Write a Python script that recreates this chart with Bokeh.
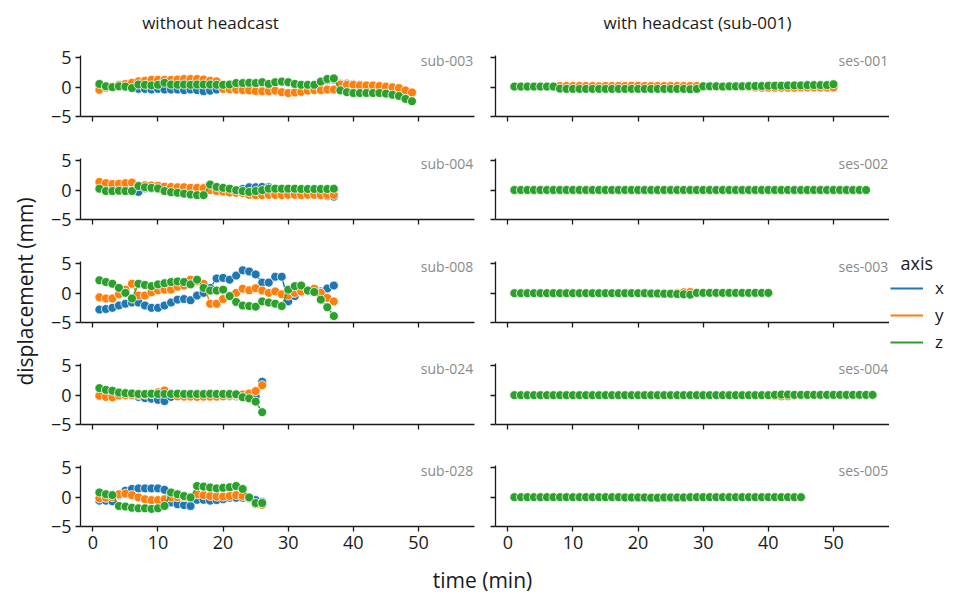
import math
from bokeh.plotting import figure
from bokeh.layouts import column, row
from bokeh.models import Label, Legend, LegendItem, FixedTicker, Range1d, CustomJSTickFormatter
from bokeh.embed import file_html
from bokeh.resources import INLINE

# ---------------- data ----------------
axis_names = ["x", "y", "z"]
axis_colors = ["#1f77b4", "#ff7f0e", "#2ca02c"]
x_ticks = [0, 10, 20, 30, 40, 50]
y_ticks = [-5, 0, 5]
y_tick_labels = ["\u22125", "0", "5"]
col_titles = ["without headcast", "with headcast (sub-001)"]
left_labels = ["sub-003", "sub-004", "sub-008", "sub-024", "sub-028"]
right_labels = ["ses-001", "ses-002", "ses-003", "ses-004", "ses-005"]
legend_title = "axis"
x_label = "time (min)"
y_label = "displacement (mm)"

sub003_x = [0.2, 0.1, 0.0, 0.1, 0.0, -0.1, -0.3, -0.3, -0.4, -0.3,
            -0.4, -0.4, -0.4, -0.5, -0.4, -0.5, -0.7, -0.6, -0.4, 0.3,
            0.4, 0.6, 0.6, 0.7, 0.6, 0.8, 0.5, 0.8, 0.9, 0.8,
            0.5, 0.3, 0.3, 0.3, 0.9, 1.2, 1.3, 0.6, 0.6, 0.5,
            0.4, 0.3, 0.2, 0.1, 0.0, -0.1, -0.3, -0.6, -0.9]
sub003_y = [-0.45, -0.1, 0.1, 0.4, 0.55, 0.75, 1.0, 1.1, 1.25, 1.25,
            1.25, 1.25, 1.3, 1.4, 1.4, 1.4, 1.3, 1.1, 1.0, -0.3,
            -0.35, -0.4, -0.5, -0.55, -0.65, -0.7, -0.7, -0.6, -0.85, -1.0,
            -0.9, -0.8, -0.6, -0.5, -0.5, -0.4, -0.4, 0.45, 0.4, 0.4,
            0.3, 0.3, 0.3, 0.2, 0.1, 0.0, -0.15, -0.55, -0.9]
sub003_z = [0.55, 0.15, 0.0, 0.15, 0.1, -0.15, 0.45, 0.4, 0.3, 0.4,
            0.75, 0.45, 0.4, 0.45, 0.4, 0.45, 0.45, 0.45, 0.4, 0.4,
            0.45, 0.7, 0.7, 0.75, 0.7, 0.85, 0.55, 0.85, 0.95, 0.85,
            0.55, 0.4, 0.4, 0.4, 0.95, 1.4, 1.5, -0.55, -0.85, -1.0,
            -1.0, -1.0, -1.0, -1.0, -1.1, -1.3, -1.5, -2.0, -2.4]

sub004_x = [0.3, 0.1, 0.0, 0.0, 0.0, 0.0, -0.3, 0.3, 0.3, 0.2,
            0.1, 0.0, 0.0, 0.1, 0.3, 0.35, 0.4, 0.6, 0.4, 0.2,
            0.1, 0.0, 0.2, 0.5, 0.5, 0.55, 0.5, 0.2, 0.1, 0.0,
            -0.2, -0.3, -0.5, -0.7, -0.9, -1.0, -1.1]
sub004_y = [1.4, 1.2, 1.05, 1.1, 1.2, 1.3, 0.8, 0.85, 0.8, 0.75,
            0.6, 0.55, 0.5, 0.5, 0.4, 0.4, 0.35, 0.0, -0.15, -0.25,
            -0.4, -0.45, -0.5, -0.8, -0.85, -0.85, -0.8, -0.8, -0.85, -0.8,
            -0.8, -0.85, -0.8, -0.8, -0.85, -0.8, -0.8]
sub004_z = [0.25, -0.15, -0.15, -0.1, -0.15, -0.15, 0.7, 0.5, 0.4, 0.3,
            -0.15, -0.35, -0.45, -0.6, -0.75, -0.85, -0.85, 0.95, 0.55, 0.4,
            0.25, 0.0, -0.15, -0.3, -0.15, 0.0, 0.25, 0.25, 0.25, 0.25,
            0.25, 0.2, 0.2, 0.2, 0.2, 0.2, 0.25]

sub008_x = [-2.8, -2.7, -2.5, -2.1, -1.8, -1.6, -1.6, -2.1, -2.5, -2.5,
            -2.1, -1.6, -1.1, -1.0, -1.2, -0.4, 0.05, 0.9, 2.5, 2.6,
            2.3, 3.0, 3.9, 3.7, 3.2, 1.8, 1.8, 2.8, 2.8, -1.4,
            -0.5, 0.2, 0.3, 0.5, 0.3, 0.8, 1.3]
sub008_y = [-0.7, -0.9, -0.9, -0.2, 0.6, 1.6, -0.4, -0.4, 0.15, 0.5,
            0.6, 0.6, 1.1, 1.3, 2.3, 2.0, 1.6, -1.8, -1.8, -1.0,
            -0.5, 0.05, 0.75, 0.5, 0.85, 0.45, 0.05, 0.3, -0.2, -0.4,
            0.05, 0.3, 0.45, 0.75, 0.05, -0.8, -1.4]
sub008_z = [2.2, 1.9, 1.6, 0.9, 0.05, -0.9, 1.6, 1.4, 1.2, 1.5,
            1.7, 1.9, 2.0, 1.9, 1.5, 2.3, 0.9, 0.45, 0.45, 0.6,
            -0.5, -1.5, -2.1, -2.2, -2.3, -1.4, -1.6, -1.8, -2.2, 0.6,
            1.2, 1.3, 0.45, 0.2, -1.1, -2.4, -3.9]

sub024_x = [-0.1, -0.1, -0.1, 0.0, 0.0, -0.1, -0.3, -0.5, -0.6, -0.8,
            -1.0, -0.3, -0.2, -0.2, -0.2, -0.25, -0.2, -0.2, -0.25, -0.2,
            -0.2, -0.2, -0.1, 0.0, -0.2, 2.3]
sub024_y = [-0.1, -0.3, -0.35, -0.05, 0.0, 0.0, 0.05, 0.1, 0.2, 0.5,
            0.8, 0.3, -0.2, -0.25, -0.25, -0.3, -0.25, -0.25, -0.25, -0.2,
            -0.1, 0.0, 0.1, 0.3, 0.7, 1.7]
sub024_z = [1.2, 0.9, 0.75, 0.45, 0.35, 0.3, 0.2, 0.2, 0.25, 0.2,
            0.2, 0.2, 0.25, 0.2, 0.2, 0.2, 0.2, 0.25, 0.2, 0.2,
            0.2, 0.15, -0.35, -0.55, -1.1, -2.9]

sub028_x = [-0.6, -0.6, -0.7, 0.3, 1.1, 1.4, 1.5, 1.5, 1.5, 1.5,
            1.25, -0.9, -1.2, -1.35, -1.5, -0.45, -0.45, -0.6, -0.5, -0.35,
            -0.1, -0.1, -0.1, -0.2, -0.5, -0.8]
sub028_y = [-0.2, -0.1, 0.0, 0.5, 0.6, 0.35, -0.05, -0.35, -0.5, -0.5,
            -0.35, -0.05, 0.0, 0.0, 0.0, 0.5, 0.35, 0.2, 0.1, 0.1,
            0.2, 0.35, 0.2, -0.2, -1.2, -1.3]
sub028_z = [0.8, 0.5, 0.35, -1.5, -1.6, -1.8, -1.9, -1.9, -2.0, -1.9,
            -1.5, 0.8, 0.5, 0.2, -0.05, 1.9, 1.8, 1.65, 1.5, 1.6,
            1.7, 1.9, 1.4, -0.05, -1.0, -1.0]

ses001_x = [0.05, 0.05, 0.05, 0.05, 0.05, 0.05, 0.0, -0.1, -0.1, -0.1,
            -0.1, -0.1, -0.1, -0.1, -0.1, -0.1, -0.1, -0.1, -0.1, -0.1,
            -0.1, -0.1, -0.1, -0.1, -0.1, -0.1, -0.1, -0.1, -0.1, 0.05,
            0.05, 0.05, 0.05, 0.05, 0.05, 0.05, 0.05, 0.1, 0.1, 0.1,
            0.1, 0.1, 0.1, 0.15, 0.15, 0.15, 0.15, 0.15, 0.15, 0.2]
ses001_y = [0.1, 0.1, 0.1, 0.1, 0.1, 0.1, 0.1, 0.2, 0.2, 0.2,
            0.2, 0.2, 0.2, 0.15, 0.2, 0.2, 0.2, 0.2, 0.25, 0.25,
            0.2, 0.2, 0.2, 0.2, 0.2, 0.2, 0.2, 0.2, 0.2, 0.1,
            0.1, 0.1, 0.1, 0.1, 0.1, 0.1, 0.05, -0.05, -0.1, -0.1,
            -0.1, -0.1, -0.1, -0.1, -0.05, -0.05, -0.05, -0.05, -0.05, -0.05]
ses001_z = [0.1, 0.1, 0.1, 0.1, 0.1, 0.1, 0.1, -0.25, -0.3, -0.3,
            -0.3, -0.3, -0.3, -0.3, -0.3, -0.3, -0.3, -0.3, -0.3, -0.3,
            -0.3, -0.3, -0.3, -0.3, -0.3, -0.3, -0.3, -0.35, -0.3, 0.15,
            0.15, 0.15, 0.1, 0.15, 0.15, 0.15, 0.2, 0.2, 0.2, 0.25,
            0.25, 0.25, 0.3, 0.3, 0.3, 0.35, 0.35, 0.35, 0.35, 0.5]

ses002_x = [0.0, 0.0, 0.0, 0.0, 0.0, 0.0, 0.0, 0.0, 0.0, 0.0,
            0.0, 0.0, 0.0, 0.0, 0.0, 0.0, 0.0, 0.0, 0.0, 0.0,
            0.0, 0.0, 0.0, 0.0, 0.0, 0.0, 0.0, 0.0, 0.0, 0.0,
            0.0, 0.0, 0.0, 0.0, 0.0, 0.0, 0.0, 0.0, 0.0, 0.0,
            0.0, 0.0, 0.0, 0.0, 0.0, 0.0, 0.0, 0.0, 0.0, 0.0,
            0.0, 0.0, 0.0, 0.0, 0.0]
ses002_y = [0.02, 0.02, 0.02, 0.02, 0.02, 0.02, 0.02, 0.02, 0.02, 0.02,
            0.02, 0.02, 0.02, 0.02, 0.02, 0.02, 0.02, 0.02, 0.02, 0.02,
            0.02, 0.02, 0.02, 0.02, 0.02, 0.02, 0.02, 0.02, 0.02, 0.02,
            0.02, 0.02, 0.02, 0.02, 0.02, 0.02, 0.02, 0.02, 0.02, 0.02,
            0.02, 0.02, 0.02, 0.02, 0.02, 0.02, 0.02, 0.02, 0.02, 0.02,
            0.02, 0.02, 0.02, 0.02, 0.02]
ses002_z = [0.03, 0.03, 0.03, 0.03, 0.03, 0.03, 0.03, 0.03, 0.03, 0.03,
            0.03, 0.03, 0.03, 0.03, 0.03, 0.03, 0.03, 0.03, 0.03, 0.03,
            0.03, 0.03, 0.03, 0.03, 0.03, 0.03, 0.03, 0.03, 0.03, 0.03,
            0.03, 0.03, 0.03, 0.03, 0.03, 0.03, 0.03, 0.03, 0.03, 0.03,
            0.03, 0.03, 0.03, 0.03, 0.03, 0.03, 0.03, 0.03, 0.03, 0.03,
            0.03, 0.03, 0.03, 0.03, 0.03]

ses003_x = [0.0, 0.0, 0.0, 0.0, 0.0, 0.0, 0.0, 0.0, 0.0, 0.0,
            0.0, 0.0, 0.0, 0.0, 0.0, 0.0, 0.0, 0.0, 0.0, 0.0,
            0.0, -0.05, -0.05, -0.05, -0.05, -0.05, -0.05, -0.05, 0.0, 0.0,
            0.0, 0.0, 0.0, 0.0, 0.0, 0.0, 0.0, 0.0, 0.0, 0.0]
ses003_y = [0.0, 0.0, 0.0, 0.0, 0.0, 0.0, 0.0, 0.0, 0.0, 0.0,
            0.0, 0.0, 0.0, 0.0, 0.0, 0.0, 0.0, 0.0, 0.0, 0.0,
            0.0, 0.0, 0.0, 0.0, 0.0, 0.05, 0.15, 0.2, 0.1, 0.05,
            0.05, 0.05, 0.05, 0.05, 0.05, 0.05, 0.05, 0.05, 0.05, 0.05]
ses003_z = [0.0, 0.0, 0.0, 0.0, 0.0, 0.0, 0.0, 0.0, 0.0, 0.0,
            0.0, 0.0, 0.0, 0.0, 0.0, 0.0, 0.0, 0.0, 0.0, 0.0,
            0.0, -0.05, -0.05, -0.1, -0.1, -0.15, -0.2, -0.25, 0.05, 0.05,
            0.05, 0.05, 0.05, 0.05, 0.05, 0.05, 0.05, 0.05, 0.05, 0.05]

ses004_x = [0.0, 0.0, 0.0, 0.0, 0.0, 0.0, 0.0, 0.0, 0.0, 0.0,
            0.0, 0.0, 0.0, 0.0, 0.0, 0.0, 0.0, 0.0, 0.0, 0.0,
            0.0, 0.0, 0.0, 0.0, 0.0, 0.0, 0.0, 0.0, 0.0, 0.0,
            0.0, 0.0, 0.0, 0.0, 0.0, 0.0, 0.0, 0.0, 0.0, 0.0,
            0.0, 0.0, 0.0, 0.0, 0.0, 0.0, 0.0, 0.0, 0.0, 0.0,
            0.0, 0.0, 0.0, 0.0, 0.0, 0.0]
ses004_y = [0.05, 0.0, 0.0, 0.0, 0.0, 0.0, 0.0, 0.0, 0.0, 0.0,
            0.0, 0.0, 0.0, 0.0, 0.0, 0.0, 0.0, 0.0, 0.0, 0.0,
            0.0, 0.0, 0.0, 0.0, 0.0, 0.0, 0.0, 0.0, 0.0, 0.0,
            0.0, 0.0, 0.0, 0.0, 0.0, 0.0, 0.0, 0.0, 0.0, 0.0,
            -0.1, -0.2, -0.2, -0.05, 0.0, 0.0, 0.0, 0.0, 0.0, 0.0,
            0.0, 0.0, 0.0, 0.0, 0.0, 0.0]
ses004_z = [0.0, 0.0, 0.0, 0.0, 0.0, 0.0, 0.0, 0.0, 0.0, 0.0,
            0.0, 0.0, 0.0, 0.0, 0.0, 0.0, 0.0, 0.0, 0.0, 0.0,
            0.0, 0.0, 0.0, 0.0, 0.0, 0.0, 0.0, 0.0, 0.0, 0.0,
            0.0, 0.0, 0.0, 0.0, 0.0, 0.0, 0.0, 0.0, 0.0, 0.0,
            0.05, 0.1, 0.1, 0.05, 0.05, 0.05, 0.05, 0.05, 0.05, 0.05,
            0.05, 0.05, 0.05, 0.05, 0.05, 0.05]

ses005_x = [0.0, 0.0, 0.0, 0.0, 0.0, 0.0, 0.0, 0.0, 0.0, 0.0,
            0.0, 0.0, 0.0, 0.0, 0.0, 0.0, 0.0, 0.0, 0.0, 0.0,
            0.0, 0.0, 0.0, 0.0, 0.0, 0.0, 0.0, 0.0, 0.0, 0.0,
            0.0, 0.0, 0.0, 0.0, 0.0, 0.0, 0.0, 0.0, 0.0, 0.0,
            0.0, 0.0, 0.0, 0.0, 0.0]
ses005_y = [0.0, 0.0, 0.0, 0.0, 0.0, 0.0, 0.0, 0.0, 0.0, 0.0,
            0.0, 0.0, 0.0, 0.0, 0.0, 0.0, 0.0, 0.0, 0.0, 0.0,
            0.0, 0.0, 0.0, 0.0, 0.0, 0.0, 0.0, 0.0, 0.0, 0.0,
            0.0, 0.0, 0.0, 0.0, 0.0, 0.0, 0.0, 0.0, 0.0, 0.0,
            0.0, 0.0, 0.0, 0.0, 0.0]
ses005_z = [0.0, 0.0, 0.0, 0.0, 0.0, 0.0, 0.0, 0.0, 0.0, 0.0,
            0.0, 0.0, 0.0, 0.0, 0.0, 0.0, 0.0, -0.05, -0.05, -0.05,
            -0.05, -0.1, -0.1, -0.05, -0.05, -0.05, -0.05, 0.0, 0.0, 0.0,
            0.0, 0.0, 0.0, 0.0, 0.0, 0.0, 0.0, 0.0, 0.0, 0.0,
            0.0, 0.0, 0.0, 0.0, 0.0]

left_data = [
    (sub003_x, sub003_y, sub003_z),
    (sub004_x, sub004_y, sub004_z),
    (sub008_x, sub008_y, sub008_z),
    (sub024_x, sub024_y, sub024_z),
    (sub028_x, sub028_y, sub028_z),
]
right_data = [
    (ses001_x, ses001_y, ses001_z),
    (ses002_x, ses002_y, ses002_z),
    (ses003_x, ses003_y, ses003_z),
    (ses004_x, ses004_y, ses004_z),
    (ses005_x, ses005_y, ses005_z),
]

# ---------------- layout ----------------
FONT = "Open Sans"
INK = "#1a1a1a"
X0, X1 = -1.9, 58.6
Y0, Y1 = -5.0, 5.4
FRAME_H = 61
FRAME_W = 394
TOP_H = 40          # column-title strip
BOTTOM_H = 36       # x-label strip
YLAB_W = 40         # y-label strip
LEG_W = 85          # legend strip
tops = [15, 21, 21, 20, 20]
bottoms = [21, 21, 21, 21, 31]
GRID_H = sum(tops) + sum(bottoms) + 5 * FRAME_H
W = 974

blank_formatter = CustomJSTickFormatter(code="return ''")


def blank_fig(w, h):
    p = figure(width=w, height=h, x_range=Range1d(0, w), y_range=Range1d(0, h),
               output_backend="svg", toolbar_location=None, title=None,
               x_axis_location=None, y_axis_location=None,
               min_border_left=0, min_border_right=0, min_border_top=0, min_border_bottom=0)
    p.outline_line_color = None
    p.xgrid.visible = False
    p.ygrid.visible = False
    return p


def make_panel(series, label, col, r):
    left = col == 0
    bl = 40 if left else 11
    br = 10 if left else 0
    h = tops[r] + FRAME_H + bottoms[r]
    p = figure(width=bl + FRAME_W + br, height=h, x_range=Range1d(X0, X1),
               y_range=Range1d(Y0, Y1), output_backend="svg", toolbar_location=None,
               title=None, min_border_left=bl, min_border_right=br,
               min_border_top=tops[r], min_border_bottom=bottoms[r])
    p.outline_line_color = None
    p.xgrid.visible = False
    p.ygrid.visible = False
    p.background_fill_color = "white"
    p.border_fill_color = "white"

    for ax in (p.xaxis[0], p.yaxis[0]):
        ax.axis_line_color = INK
        ax.axis_line_width = 1.3
        ax.major_tick_line_color = INK
        ax.major_tick_line_width = 1.3
        ax.major_tick_in = 0
        ax.major_tick_out = 5
        ax.minor_tick_line_color = None
        ax.major_label_text_font = FONT
        ax.major_label_text_font_size = "18px"
        ax.major_label_text_color = INK
    p.xaxis.ticker = FixedTicker(ticks=x_ticks)
    p.yaxis.ticker = FixedTicker(ticks=y_ticks)
    p.yaxis.major_label_overrides = dict(zip(y_ticks, y_tick_labels))
    p.yaxis.major_label_standoff = 4
    p.xaxis.major_label_standoff = 4

    if r != 4:
        p.xaxis.formatter = blank_formatter
        p.xaxis.major_label_standoff = 0
    if not left:
        p.yaxis.formatter = blank_formatter
        p.yaxis.major_label_overrides = {}
        p.yaxis.major_label_standoff = 0

    for vals, c in zip(series, axis_colors):
        t = list(range(1, len(vals) + 1))
        p.line(t, vals, line_color=c, line_width=1.5)
        p.scatter(t, vals, size=9, fill_color=c, line_color="white", line_width=0.8)

    p.add_layout(Label(x=X1 - 0.2, y=4.55, text=label, text_align="right",
                       text_baseline="middle", text_font=FONT, text_font_size="14px",
                       text_color="#8a8a8a"))
    return p


rows = []
for r in range(5):
    pl = make_panel(left_data[r], left_labels[r], 0, r)
    pr = make_panel(right_data[r], right_labels[r], 1, r)
    rows.append(row(pl, pr))
grid = column(*rows)

# column titles strip
pt = blank_fig(W, TOP_H)
pt.add_layout(Label(x=210, y=TOP_H - 22, text=col_titles[0], text_align="center",
                    text_baseline="middle", text_font=FONT, text_font_size="17px",
                    text_color=INK))
pt.add_layout(Label(x=697, y=TOP_H - 22, text=col_titles[1], text_align="center",
                    text_baseline="middle", text_font=FONT, text_font_size="17px",
                    text_color=INK))

# y-label strip
py = blank_fig(YLAB_W, GRID_H)
py.add_layout(Label(x=24, y=GRID_H - (291 - TOP_H), text=y_label, angle=math.pi / 2,
                    text_align="center", text_baseline="middle", text_font=FONT,
                    text_font_size="21px", text_color=INK))

# legend strip
pg = blank_fig(LEG_W, GRID_H)
nan = float("nan")
items = []
for name, c in zip(axis_names, axis_colors):
    rr = pg.line(x=[nan, nan], y=[nan, nan], line_color=c, line_width=2.2)
    items.append(LegendItem(label=name, renderers=[rr]))
leg = Legend(items=items, location=(1, GRID_H - (353 - TOP_H)), orientation="vertical",
             border_line_color=None, background_fill_alpha=0, padding=0, margin=0,
             glyph_width=33, glyph_height=20, label_height=20, spacing=4,
             label_standoff=12, label_text_font=FONT, label_text_font_size="17px",
             label_text_color=INK)
pg.add_layout(leg)
pg.add_layout(Label(x=11, y=GRID_H - (262 - TOP_H), text=legend_title, text_align="left",
                    text_baseline="middle", text_font=FONT, text_font_size="18px",
                    text_color=INK))

# x-label strip
pb = blank_fig(W, BOTTOM_H)
pb.add_layout(Label(x=482, y=14, text=x_label, text_align="center", text_baseline="middle",
                    text_font=FONT, text_font_size="21px", text_color=INK))

layout = column(pt, row(py, grid, pg), pb)

with open("out.html", "w") as f:
    f.write(file_html(layout, INLINE))
